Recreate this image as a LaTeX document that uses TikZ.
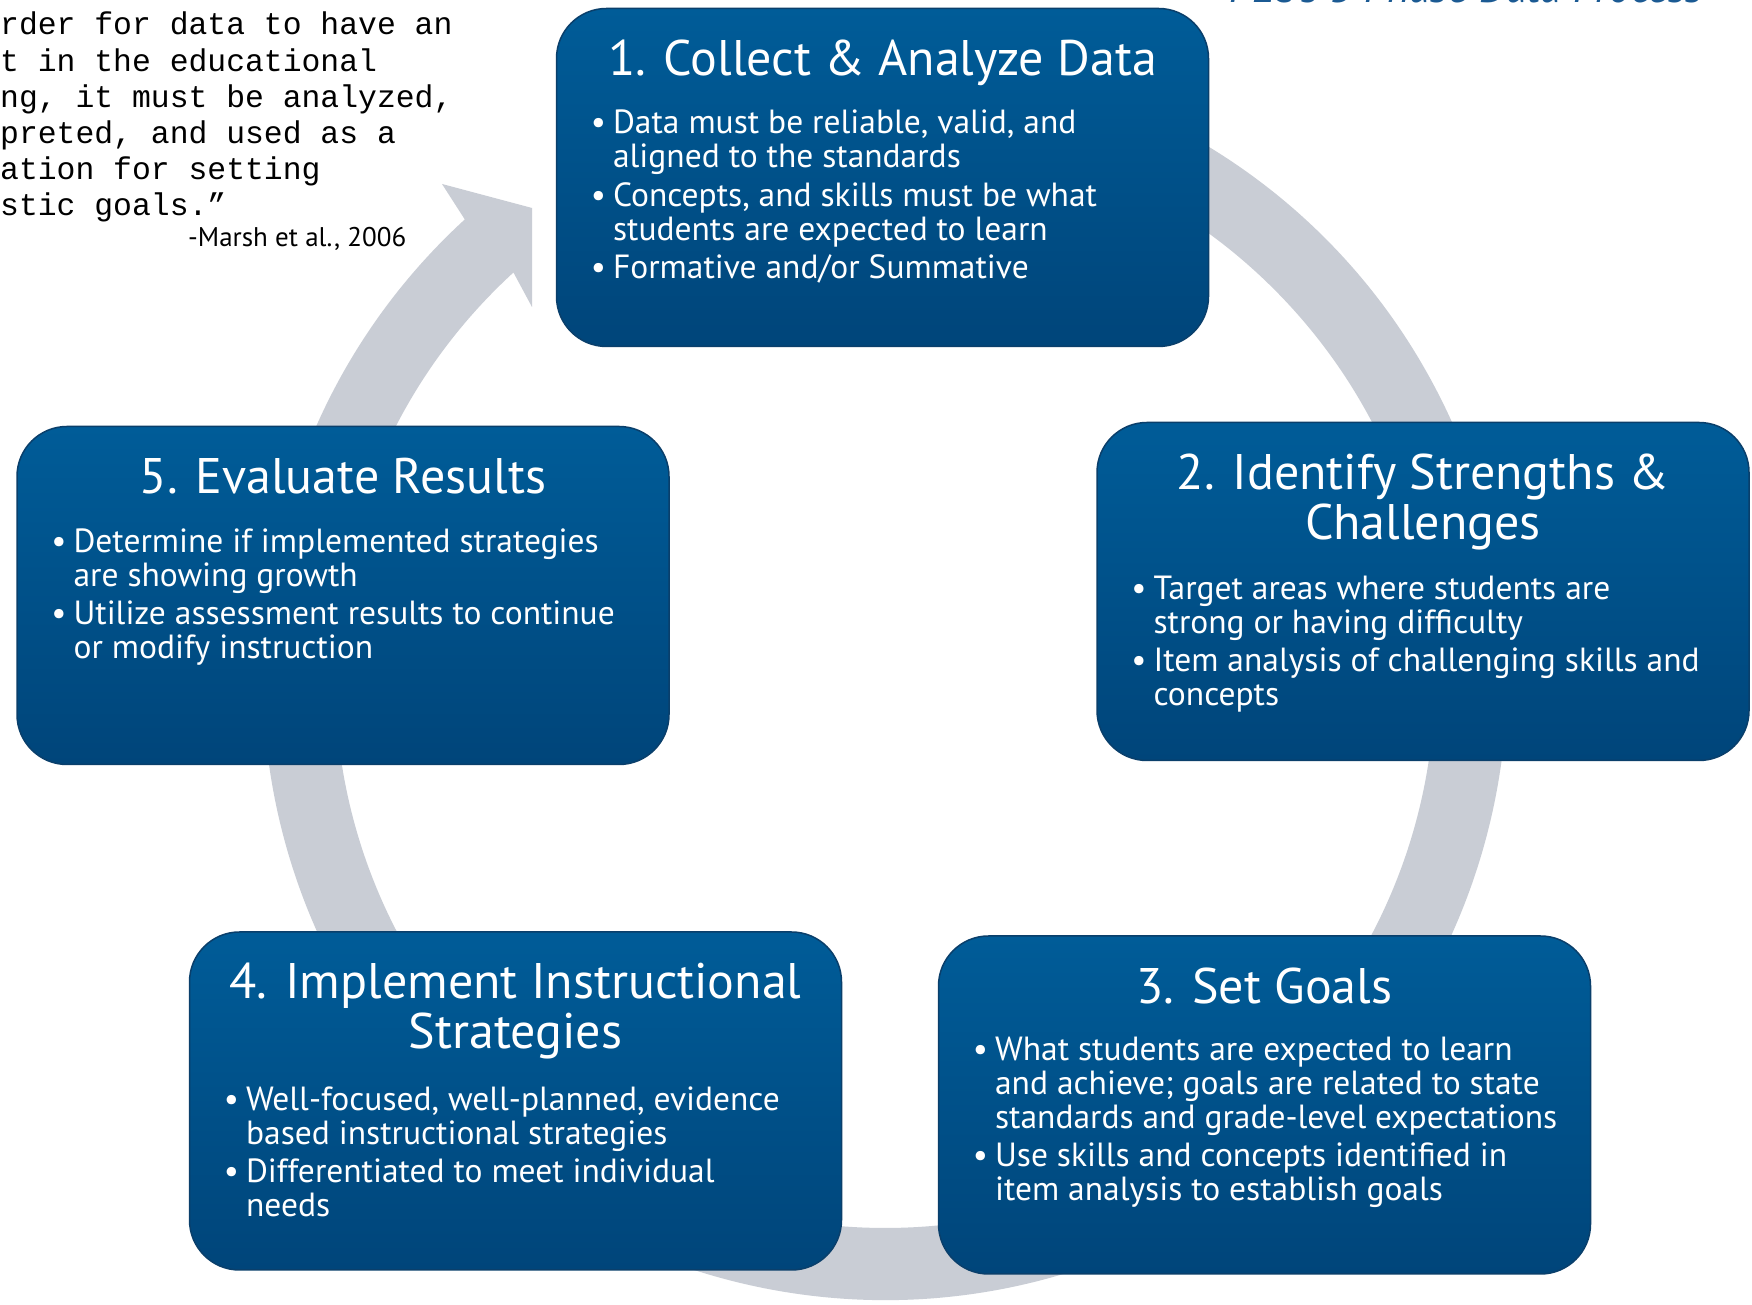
\documentclass[tikz,border=0pt]{standalone}
\usepackage{fontspec}
\setmainfont{PT Sans}
\setmonofont{Liberation Mono}
\usetikzlibrary{positioning,calc}
\definecolor{boxtop}{HTML}{005C98}
\definecolor{boxbot}{HTML}{00457A}
\definecolor{boxedge}{HTML}{0A3F6B}
\definecolor{ringgray}{HTML}{C9CDD5}
\definecolor{headblue}{HTML}{1B5A93}
\tikzset{
  stepbox/.style={rounded corners=50pt,minimum width=652pt,minimum height=338pt,inner sep=0pt,
    top color=boxtop,bottom color=boxbot,draw=boxedge,line width=1.5pt},
  boxtitle/.style={inner sep=0pt,text=white,align=center,font=\fontsize{50}{50}\selectfont},
  boxbody/.style={inner sep=0pt,text=white,align=left,anchor=north west,font=\fontsize{33.5}{34}\selectfont}
}
\newcommand{\bpts}[1]{\begin{tabular}{@{}l@{\hspace{7pt}}l@{}}#1\end{tabular}}

\begin{document}
\begin{tikzpicture}[x=1pt,y=1pt]
    \useasboundingbox (0,0) rectangle (1752,1305);
    \fill[white] (0,0) rectangle (1752,1305);
    % circular arrow behind the boxes
    \coordinate (c) at (885,627);
    \fill[ringgray] ($(c)+(115:622)$) arc[start angle=115,end angle=-227.5,radius=622]
      -- (442,1121) -- (532,1097) -- (532,998)
      -- ($(c)+(132.5:550)$) arc[start angle=-227.5,end angle=115,radius=550] -- cycle;
    % quote and heading, cut by the page edge
    \node[anchor=north west,inner sep=0pt,align=left,font=\ttfamily\fontsize{31.4}{36.2}\selectfont] (quote) at (0,1293)
      {rder for data to have an\\t in the educational\\ng, it must be analyzed,\\preted, and used as a\\ation for setting\\stic goals.”};
    \node[anchor=base west,inner sep=0pt,font=\fontsize{27}{32}\selectfont] (cite) at (188,1058) {-Marsh et al., 2006};
    \node[anchor=base west,inner sep=0pt,text=headblue,font=\itshape\fontsize{43}{48}\selectfont] (head) at (1229,1302) {PLC's 5 Phase Data Process};
    % the five steps
    \node[stepbox] (box1) at (882.5,1127.5) {};
    \node[stepbox] (box2) at (1423,713.5) {};
    \node[stepbox] (box3) at (1264.5,200) {};
    \node[stepbox] (box4) at (515.5,204) {};
    \node[stepbox] (box5) at (343,709.5) {};
    \node[boxtitle,anchor=north,yshift=-32pt] (t1) at (box1.north) {1. Collect \& Analyze Data};
    \node[boxtitle,anchor=north,yshift=-32pt] (t2) at (box2.north) {2. Identify Strengths \&\\Challenges};
    \node[boxtitle,anchor=north,yshift=-32pt] (t3) at (box3.north) {3. Set Goals};
    \node[boxtitle,anchor=north,yshift=-32pt] (t4) at (box4.north) {4. Implement Instructional\\Strategies};
    \node[boxtitle,anchor=north,yshift=-32pt] (t5) at (box5.north) {5. Evaluate Results};
    \node[boxbody] (b1) at ([xshift=35pt,yshift=-24pt]box1.west |- t1.south) {\bpts{%
      \textbullet & Data must be reliable, valid, and\\ & aligned to the standards\\[4pt]
      \textbullet & Concepts, and skills must be what\\ & students are expected to learn\\[4pt]
      \textbullet & Formative and/or Summative}};
    \node[boxbody] (b2) at ([xshift=35pt,yshift=-25pt]box2.west |- t2.south) {\bpts{%
      \textbullet & Target areas where students are\\ & strong or having difficulty\\[4pt]
      \textbullet & Item analysis of challenging skills and\\ & concepts}};
    \node[boxbody] (b3) at ([xshift=35pt,yshift=-33pt]box3.west |- t3.south) {\bpts{%
      \textbullet & What students are expected to learn\\ & and achieve; goals are related to state\\
        & standards and grade-level expectations\\[4pt]
      \textbullet & Use skills and concepts identified in\\ & item analysis to establish goals}};
    \node[boxbody] (b4) at ([xshift=35pt,yshift=-27pt]box4.west |- t4.south) {\bpts{%
      \textbullet & Well-focused, well-planned, evidence\\ & based instructional strategies\\[4pt]
      \textbullet & Differentiated to meet individual\\ & needs}};
    \node[boxbody] (b5) at ([xshift=35pt,yshift=-34pt]box5.west |- t5.south) {\bpts{%
      \textbullet & Determine if implemented strategies\\ & are showing growth\\[4pt]
      \textbullet & Utilize assessment results to continue\\ & or modify instruction}};
\end{tikzpicture}
\end{document}
